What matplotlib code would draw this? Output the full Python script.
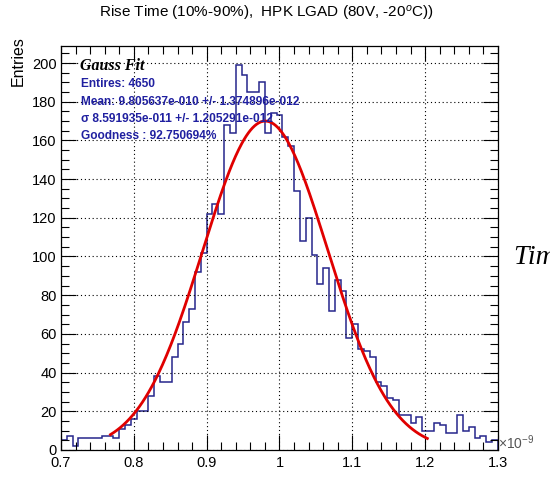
import matplotlib
matplotlib.use("Agg")
import matplotlib.pyplot as plt
from matplotlib.ticker import MultipleLocator
import numpy as np

plt.rcParams['font.family'] = ['Liberation Sans', 'DejaVu Sans']
plt.rcParams['mathtext.fontset'] = 'custom'
plt.rcParams['mathtext.rm'] = 'Liberation Sans'
plt.rcParams['mathtext.it'] = 'Liberation Sans:italic'

# histogram: 75 bins of 0.008 ns between 0.7 and 1.3 ns (x in units of 1e-9 s)
x_lo, x_hi, n_bins = 0.7, 1.3, 75
counts = [5, 7, 2, 6, 6, 6, 6, 7, 7, 6,
          11, 13, 16, 20, 20, 28, 38, 35, 35, 48,
          55, 66, 73, 92, 102, 122, 127, 122, 168, 164,
          199, 194, 185, 185, 190, 164, 174, 173, 162, 157,
          134, 108, 120, 101, 86, 94, 72, 88, 82, 58,
          65, 52, 51, 48, 35, 33, 27, 26, 18, 18,
          14, 17, 10, 10, 14, 13, 9, 9, 18, 10,
          12, 6, 7, 4, 5]

# gauss fit shown in the box
fit_mean = 0.9805637
fit_sigma = 0.08591935
fit_amp = 170.0
fit_lo, fit_hi = 0.768, 1.203

stat_lines = ["Entires: 4650",
              "Mean: 9.805637e-010 +/- 1.374896e-012",
              "\u03c3 8.591935e-011 +/- 1.205291e-012",
              "Goodness : 92.750694%"]

fig = plt.figure(figsize=(5.5, 4.94), dpi=100)
ax = fig.add_axes([0.1109, 0.0891, 0.7945, 0.8186])

edges = np.linspace(x_lo, x_hi, n_bins + 1)
ax.stairs(counts, edges, color='#26268c', lw=1.1, baseline=0)

xf = np.linspace(fit_lo, fit_hi, 300)
yf = fit_amp * np.exp(-0.5 * ((xf - fit_mean) / fit_sigma) ** 2)
ax.plot(xf, yf, color='#e00000', lw=2.0)

ax.set_xlim(x_lo, x_hi)
ax.set_ylim(0, 209)
ax.xaxis.set_major_locator(MultipleLocator(0.1))
ax.xaxis.set_minor_locator(MultipleLocator(0.02))
ax.yaxis.set_major_locator(MultipleLocator(20))
ax.yaxis.set_minor_locator(MultipleLocator(5))
ax.set_xticks([0.7, 0.8, 0.9, 1.0, 1.1, 1.2, 1.3])
ax.set_xticklabels(['0.7', '0.8', '0.9', '1', '1.1', '1.2', '1.3'])
ax.tick_params(which='both', direction='in', top=True, right=True,
               labelsize=10.5, width=0.8)
ax.tick_params(which='major', length=11)
ax.tick_params(which='minor', length=5.5)
ax.tick_params(axis='x', pad=4)
ax.tick_params(axis='y', pad=3)
ax.grid(True, which='major', color='black', lw=0.8, linestyle=(0, (1, 2.5)))
for s in ax.spines.values():
    s.set_linewidth(0.9)

fig.text(0.484, 0.972, "Rise Time (10%-90%),  HPK LGAD (80V, -20$^{o}$C))",
         ha='center', va='center', fontsize=11)
fig.text(0.033, 0.926, "Entries", rotation=90, ha='center', va='top', fontsize=11.5)
fig.text(0.905, 0.103, "\u00d710$^{-9}$", ha='left', va='center',
         fontsize=10, color='#555555')
fig.text(0.935, 0.478, "Time [s]", ha='left', va='center', fontsize=20,
         family='Liberation Serif', style='italic')

fig.text(0.145, 0.866, "Gauss Fit", ha='left', va='center', fontsize=11.5,
         family='Liberation Serif', style='italic', weight='bold')
ys = [0.829, 0.794, 0.759, 0.725]
for txt, y in zip(stat_lines, ys):
    fig.text(0.147, y, txt, ha='left', va='center', fontsize=8.6,
             weight='bold', color='#2020a0')

fig.savefig("out.png", dpi=100)
